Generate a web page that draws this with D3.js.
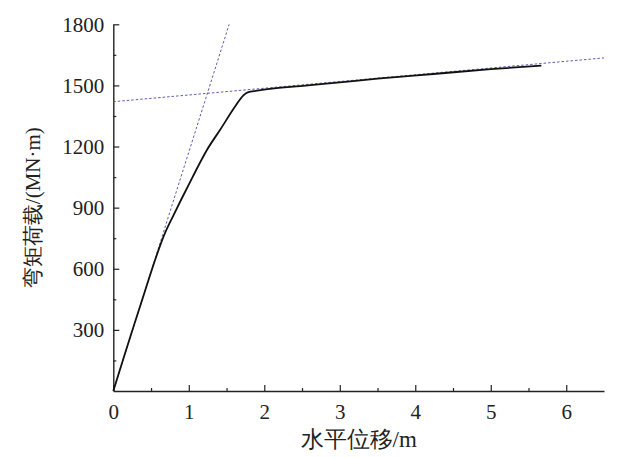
<!DOCTYPE html>
<html lang="zh">
<head>
<meta charset="UTF-8">
<title>弯矩荷载-水平位移</title>
<script src="https://d3js.org/d3.v7.min.js"></script>
<style>
  body { margin: 0; background: #fff; }
  svg { font-family: "Liberation Serif", "DejaVu Serif", serif; }
</style>
</head>
<body>
<svg width="628" height="458"></svg>
<script>
// load-displacement curve
const dispX = [0, 0.35, 0.69, 0.80, 0.90, 1.05, 1.24, 1.42, 1.62, 1.72, 1.78, 1.90, 2.08, 2.48, 3.0, 3.5, 4.24, 5.0, 5.67];
const momentY = [0, 410, 780, 865, 940, 1050, 1183, 1285, 1400, 1450, 1466, 1474, 1483, 1497, 1515, 1533, 1556, 1580, 1597];

// the two tangent lines (dotted)
const elasticX = [0, 1.535];
const elasticY = [0, 1800];
const plasticX = [0, 6.5];
const plasticY = [1420, 1635];

const xTicks = [0, 1, 2, 3, 4, 5, 6];
const yTicks = [300, 600, 900, 1200, 1500, 1800];

const serif = "'Liberation Serif', 'DejaVu Serif', serif";
const svg = d3.select("svg");
const padL = 113.3, padR = 604, padT = 24.3, padB = 391;

const x = d3.scaleLinear().domain([0, 6.5]).range([padL, padR]);
const y = d3.scaleLinear().domain([0, 1800]).range([padB, padT]);

// minor ticks first, then the major axis on top
svg.append("g")
    .attr("transform", `translate(0,${padB})`)
    .call(d3.axisBottom(x).tickValues(d3.range(0.5, 6.5, 1)).tickSize(-3).tickFormat(""))
    .call(g => g.select(".domain").remove())
    .selectAll("line").attr("stroke", "#222").attr("stroke-width", 1.2);

svg.append("g")
    .attr("transform", `translate(${padL},0)`)
    .call(d3.axisLeft(y).tickValues(d3.range(150, 1800, 300)).tickSize(-3).tickFormat(""))
    .call(g => g.select(".domain").remove())
    .selectAll("line").attr("stroke", "#222").attr("stroke-width", 1.2);

const xAxis = svg.append("g")
    .attr("transform", `translate(0,${padB})`)
    .call(d3.axisBottom(x).tickValues(xTicks).tickFormat(d3.format("d"))
        .tickSize(-6).tickSizeOuter(0).tickPadding(13));

const yAxis = svg.append("g")
    .attr("transform", `translate(${padL},0)`)
    .call(d3.axisLeft(y).tickValues(yTicks).tickFormat(d3.format("d"))
        .tickSize(-6).tickSizeOuter(0).tickPadding(9));

[xAxis, yAxis].forEach(a => {
    a.attr("font-family", serif).attr("font-size", 21);
    a.select(".domain").attr("stroke", "#222").attr("stroke-width", 1.4);
    a.selectAll(".tick line").attr("stroke", "#222").attr("stroke-width", 1.2);
    a.selectAll(".tick text").attr("fill", "#222");
});
xAxis.selectAll(".tick text").attr("dy", "0.71em");

// tangent lines
const line = d3.line().x(d => x(d[0])).y(d => y(d[1]));
[[elasticX, elasticY], [plasticX, plasticY]].forEach(([xs, ys]) => {
    svg.append("path")
        .datum(xs.map((v, i) => [v, ys[i]]))
        .attr("d", line)
        .attr("fill", "none")
        .attr("stroke", "#4b4ba8")
        .attr("stroke-width", 0.9)
        .attr("stroke-dasharray", "2.5,2");
});

// main curve
svg.append("path")
    .datum(dispX.map((v, i) => [v, momentY[i]]))
    .attr("d", line.curve(d3.curveMonotoneX))
    .attr("fill", "none")
    .attr("stroke", "#111")
    .attr("stroke-width", 1.8)
    .attr("stroke-linejoin", "round");

// axis titles
svg.append("text")
    .attr("x", (padL + padR) / 2)
    .attr("y", 447)
    .attr("text-anchor", "middle")
    .attr("font-family", serif)
    .attr("font-size", 23)
    .attr("fill", "#222")
    .text("水平位移/m");

svg.append("text")
    .attr("transform", `translate(40,${(padT + padB) / 2}) rotate(-90)`)
    .attr("text-anchor", "middle")
    .attr("font-family", serif)
    .attr("font-size", 21)
    .attr("fill", "#222")
    .text("弯矩荷载/(MN·m)");
</script>
</body>
</html>
